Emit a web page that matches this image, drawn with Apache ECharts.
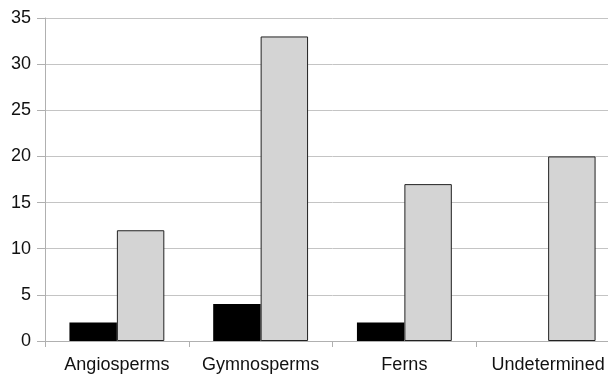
<!DOCTYPE html>
<html>
<head>
<meta charset="utf-8">
<script src="https://cdn.jsdelivr.net/npm/echarts@6/dist/echarts.min.js"></script>
<style>
  html, body { margin: 0; padding: 0; background: #fff; overflow: hidden; }
  #chart { width: 620px; height: 375px; }
</style>
</head>
<body>
<div id="chart"></div>
<script>
const categories = ['Angiosperms', 'Gymnosperms', 'Ferns', 'Undetermined'];
const blackValues = [2, 4, 2, 0];
const grayValues = [12, 33, 17, 20];
const yTicks = { min: 0, max: 35, interval: 5 };

const myChart = echarts.init(document.getElementById('chart'));

const option = {
  animation: false,
  grid: { left: 45, right: 0, top: 18, bottom: 34 },
  xAxis: {
    type: 'category',
    data: categories,
    axisLine: { show: true, lineStyle: { color: '#b0b0b0' } },
    axisTick: { show: true, length: 6, lineStyle: { color: '#b0b0b0' } },
    axisLabel: {
      interval: 0,
      color: '#111',
      fontSize: 18,
      fontFamily: 'Liberation Sans',
      margin: 15,
    },
  },
  yAxis: {
    type: 'value',
    min: yTicks.min,
    max: yTicks.max,
    interval: yTicks.interval,
    axisLine: { show: true, lineStyle: { color: '#b0b0b0' } },
    axisTick: { show: true, length: 8, lineStyle: { color: '#b0b0b0' } },
    axisLabel: { color: '#111', fontSize: 18, fontFamily: 'Liberation Sans', margin: 14 },
    splitLine: { show: true, lineStyle: { color: '#c4c4c4' } },
  },
  series: [
    {
      type: 'bar',
      data: blackValues,
      barWidth: '33%',
      barGap: '0%',
      itemStyle: { color: '#000', borderWidth: 0 },
    },
    {
      type: 'bar',
      data: grayValues,
      barWidth: '33%',
      itemStyle: { color: '#d4d4d4', borderColor: '#222', borderWidth: 1 },
    },
  ],
};

myChart.setOption(option);
</script>
</body>
</html>
